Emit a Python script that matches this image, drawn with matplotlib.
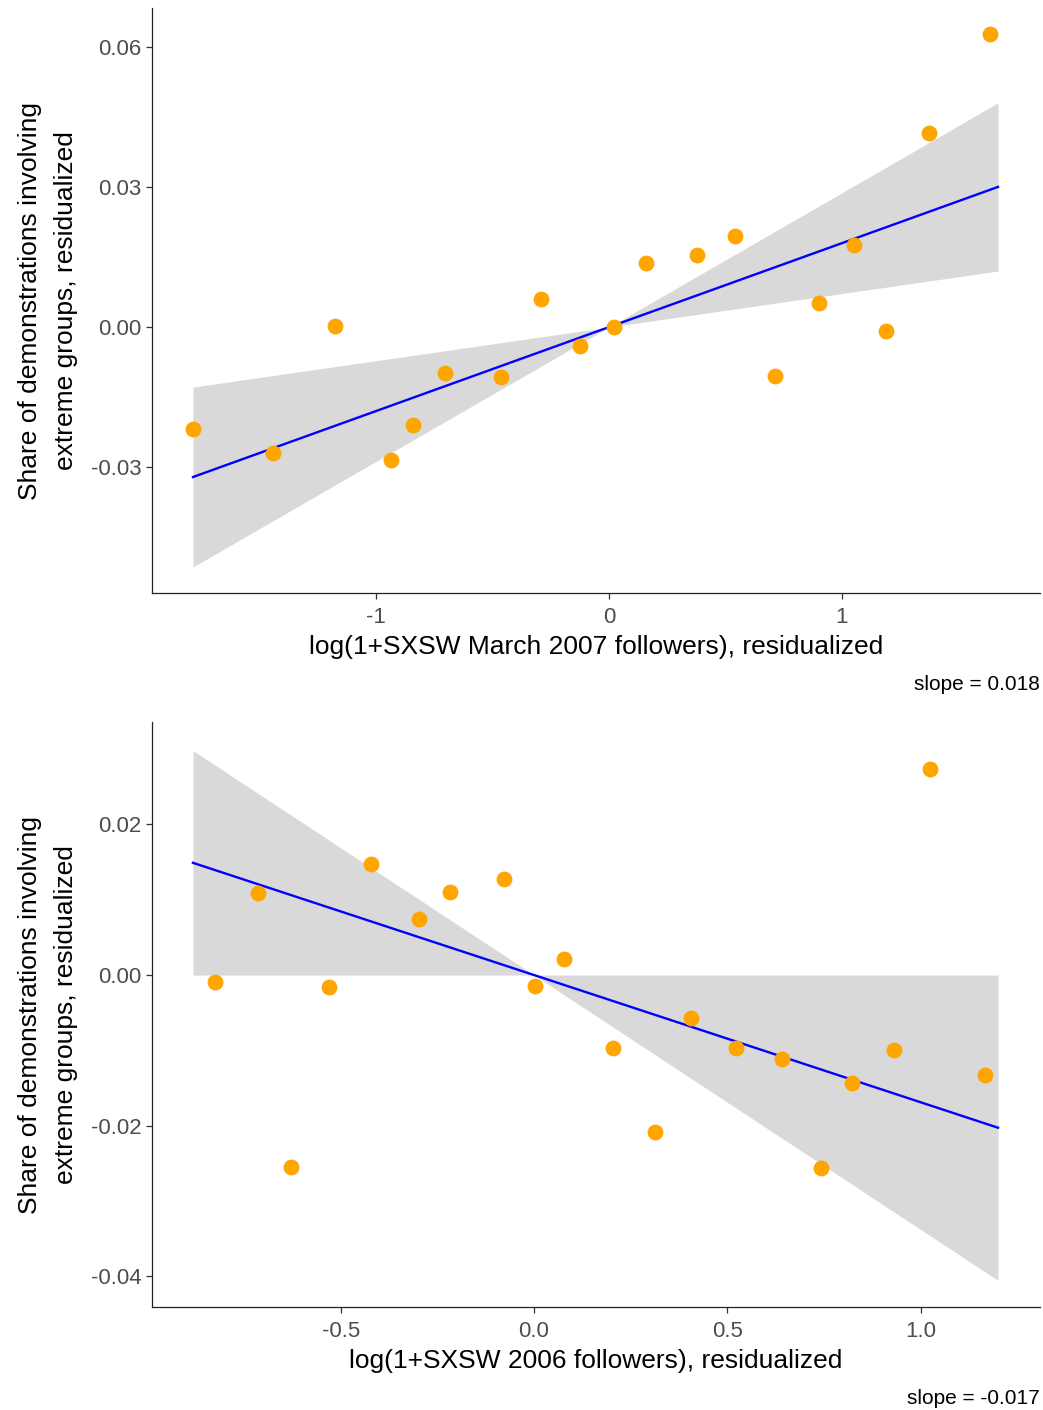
import matplotlib
matplotlib.use('Agg')
import matplotlib.pyplot as plt
import numpy as np

plt.rcParams['font.family'] = ['Liberation Sans', 'DejaVu Sans']
plt.rcParams['axes.unicode_minus'] = False

# top panel: SXSW March 2007
x_top = [-1.785, -1.442, -1.176, -0.936, -0.841, -0.704, -0.464, -0.292, -0.124, 0.021,
         0.159, 0.378, 0.541, 0.712, 0.901, 1.052, 1.189, 1.373, 1.635]
y_top = [-0.0219, -0.0270, 0.0002, -0.0285, -0.0210, -0.0099, -0.0107, 0.0060, -0.0041, 0.0000,
         0.0137, 0.0154, 0.0195, -0.0105, 0.0051, 0.0176, -0.0009, 0.0416, 0.0628]
slope_top = 0.018
ci_top = 0.0108          # CI half-width per unit of x
fit_range_top = (-1.785, 1.67)
xticks_top = [-1, 0, 1]
yticks_top = [-0.03, 0.0, 0.03, 0.06]

# bottom panel: SXSW 2006
x_bot = [-0.825, -0.714, -0.628, -0.530, -0.4215, -0.297, -0.217, -0.0776, 0.0026, 0.0776,
         0.204, 0.313, 0.406, 0.522, 0.641, 0.742, 0.822, 0.931, 1.024, 1.166]
y_bot = [-0.0009, 0.0109, -0.0255, -0.0016, 0.0147, 0.0074, 0.0110, 0.0127, -0.0015, 0.0021,
         -0.0097, -0.0208, -0.0057, -0.0097, -0.0111, -0.0256, -0.0143, -0.0100, 0.0273, -0.0133]
slope_bot = -0.0169
ci_bot = 0.0169
fit_range_bot = (-0.882, 1.2)
xticks_bot = [-0.5, 0.0, 0.5, 1.0]
yticks_bot = [-0.04, -0.02, 0.0, 0.02]

fig = plt.figure(figsize=(10.43, 14.10), dpi=100)
ax1 = fig.add_axes([0.1457, 0.5794, 0.9971 - 0.1457, 0.9943 - 0.5794])
ax2 = fig.add_axes([0.1457, 0.0730, 0.9971 - 0.1457, 0.4879 - 0.0730])


def panel(ax, xs, ys, slope, ci, rng, xlim, ylim, xticks, yticks, xfmt, xlabel, slope_txt):
    xf = np.linspace(rng[0], rng[1], 200)
    yf = slope * xf
    ax.fill_between(xf, yf - ci * np.abs(xf), yf + ci * np.abs(xf), color='#d9d9d9', lw=0, zorder=1)
    ax.plot(xf, yf, color='#0000ff', lw=1.7, zorder=2)
    ax.scatter(xs, ys, s=130, color='#ffa500', lw=0, zorder=3)
    ax.set_xlim(*xlim)
    ax.set_ylim(*ylim)
    ax.set_xticks(xticks)
    ax.set_xticklabels([xfmt % t for t in xticks])
    ax.set_yticks(yticks)
    ax.set_yticklabels(['%.2f' % t for t in yticks])
    for s in ['top', 'right']:
        ax.spines[s].set_visible(False)
    for s in ['left', 'bottom']:
        ax.spines[s].set_linewidth(0.9)
        ax.spines[s].set_color('#222222')
    ax.tick_params(length=4.5, width=0.9, color='#333333', labelcolor='#4d4d4d', labelsize=16)
    ax.tick_params(axis='x', pad=5.5)
    ax.tick_params(axis='y', pad=3)
    ax.set_xlabel(xlabel, fontsize=19, color='black', labelpad=5)
    ax.set_ylabel('Share of demonstrations involving\nextreme groups, residualized',
                  fontsize=19, color='black', linespacing=1.65, labelpad=9)
    ax.text(1.0, -0.156, slope_txt, transform=ax.transAxes, ha='right', va='center', fontsize=15)


panel(ax1, x_top, y_top, slope_top, ci_top, fit_range_top, (-1.961, 1.850), (-0.057, 0.0684),
      xticks_top, yticks_top, '%d', 'log(1+SXSW March 2007 followers), residualized', 'slope = 0.018')
panel(ax2, x_bot, y_bot, slope_bot, ci_bot, fit_range_bot, (-0.988, 1.3085), (-0.0441, 0.0336),
      xticks_bot, yticks_bot, '%.1f', 'log(1+SXSW 2006 followers), residualized', 'slope = -0.017')

fig.savefig('out.png', dpi=100)
